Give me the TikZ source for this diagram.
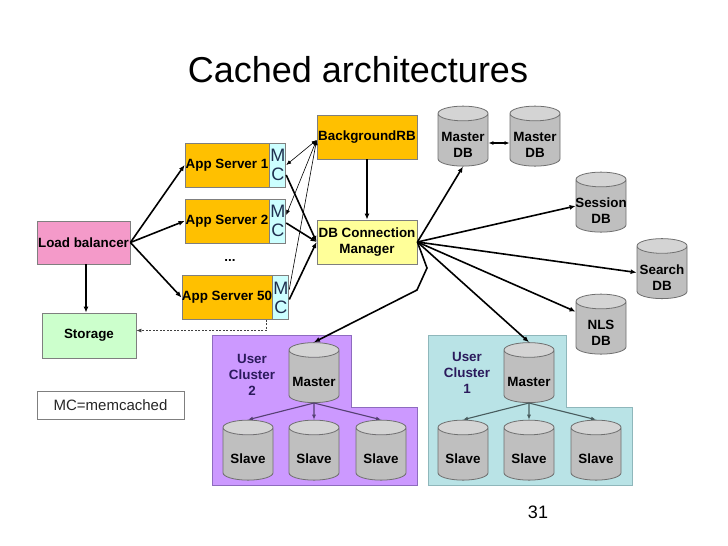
\documentclass[tikz,border=0pt]{standalone}
\usepackage{fontspec}
\setmainfont{Liberation Sans}
\usetikzlibrary{shapes.geometric,arrows.meta,calc}
\definecolor{orangefill}{HTML}{FFC000}
\definecolor{mcfill}{HTML}{CCFFFF}
\definecolor{pinkfill}{HTML}{F49AC9}
\definecolor{greenfill}{HTML}{CCFFCC}
\definecolor{yellowfill}{HTML}{FFFF99}
\definecolor{boxline}{HTML}{7F7F7F}
\definecolor{dbgray}{HTML}{BFBFBF}
\definecolor{dbtop}{HTML}{D4D4D4}
\definecolor{dbline}{HTML}{6F6F6F}
\definecolor{purplefill}{HTML}{CC99FF}
\definecolor{purpleline}{HTML}{8E6BBF}
\definecolor{tealfill}{HTML}{B9E3E6}
\definecolor{tealline}{HTML}{8FB7BB}
\definecolor{clustertext}{HTML}{2B1A5C}
\definecolor{mctext}{HTML}{1F2F4F}
\newcommand\boxfont{\fontsize{13.4}{16}\selectfont\bfseries}
\begin{document}
\begin{tikzpicture}[x=1pt,y=-1pt,
  box/.style={draw=boxline, line width=0.8pt, inner sep=0pt, font=\boxfont, align=center, text=black},
  mcbox/.style={draw=boxline, line width=0.8pt, fill=mcfill, inner sep=0pt, minimum width=16pt, minimum height=44pt, align=center, font=\fontsize{18}{19}\selectfont, text=mctext},
  dbnode/.style={cylinder, shape border rotate=90, draw=dbline, line width=0.8pt, cylinder uses custom fill, cylinder body fill=dbgray, cylinder end fill=dbtop, minimum width=50pt, minimum height=60pt, aspect=0.42, inner sep=0pt, font=\boxfont},
  dblabel/.style={font=\boxfont, align=center, inner sep=0pt},
  arr/.style={line width=1.6pt, -{Latex[length=6pt,width=5pt]}},
  thinarr/.style={line width=0.6pt, -{Latex[length=5pt,width=4pt]}},
  clarr/.style={line width=1.1pt, -{Latex[length=5pt,width=4pt]}},
  cluster/.style={line width=0.8pt},
  cltext/.style={font=\boxfont, align=center, text=clustertext}
]
\useasboundingbox (0,0) rectangle (728,546);
\fill[white] (0,0) rectangle (728,546);

% title and page number
\node[font=\fontsize{36}{40}\selectfont, anchor=base] (title) at (358,82) {Cached architectures};
\node[font=\fontsize{18}{20}\selectfont, anchor=base] (pagenum) at (538,518) {31};

% clusters
\filldraw[cluster, fill=purplefill, draw=purpleline] (212,335) -- (351,335) -- (351,407) -- (417,407) -- (417,485) -- (212,485) -- cycle;
\filldraw[cluster, fill=tealfill, draw=tealline] (428,335) -- (566,335) -- (566,407) -- (632,407) -- (632,485) -- (428,485) -- cycle;

% boxes
\node[box, fill=pinkfill, minimum width=93pt, minimum height=43pt] (lb) at (83.5,242.5) {Load balancer};
\node[box, fill=greenfill, minimum width=94pt, minimum height=45pt] (storage) at (89,335.5) {Storage};
\node[box, fill=orangefill, minimum width=84pt, minimum height=44pt] (app1) at (227,165) {App Server 1};
\node[box, fill=orangefill, minimum width=84pt, minimum height=44pt] (app2) at (227,221) {App Server 2};
\node[box, fill=orangefill, minimum width=84pt, minimum height=44pt] (app50) at (227,297.5) {App Server 50};
\node[mcbox, anchor=west] (mc1) at (app1.east) {M\\C};
\node[mcbox, anchor=west] (mc2) at (app2.east) {M\\C};
\node[mcbox, anchor=west] (mc50) at (app50.east) {M\\C};
\node[font=\boxfont] (dots) at (230,260) {...};
\node[box, fill=orangefill, minimum width=100pt, minimum height=44pt] (bg) at (367,137) {BackgroundRB};
\node[box, fill=yellowfill, minimum width=100pt, minimum height=44pt] (dbm) at (367,242) {DB Connection\\Manager};
\node[draw=boxline, line width=0.8pt, inner sep=0pt, minimum width=147pt, minimum height=28pt, font=\fontsize{15}{17}\selectfont, text={black!85}] (legend) at (110.5,405) {MC=memcached};

% databases
\node[dbnode] (mdb1) at (463,140) {\phantom{Slave}};
\node[dblabel] (mdb1t) at (463,145) {Master\\DB};
\node[dbnode] (mdb2) at (535,140) {\phantom{Slave}};
\node[dblabel] (mdb2t) at (535,145) {Master\\DB};
\node[dbnode] (sess) at (601,206) {\phantom{Slave}};
\node[dblabel] (sesst) at (601,211) {Session\\DB};
\node[dbnode] (search) at (662,272.5) {\phantom{Slave}};
\node[dblabel] (searcht) at (662,277.5) {Search\\DB};
\node[dbnode] (nls) at (601,328) {\phantom{Slave}};
\node[dblabel] (nlst) at (601,333) {NLS\\DB};

\node[dbnode] (um2) at (314,376.5) {\phantom{Slave}};
\node[dblabel] (um2t) at (314,382) {Master};
\node[dbnode] (s21) at (248,454) {\phantom{Slave}};
\node[dblabel] (s21t) at (248,459) {Slave};
\node[dbnode] (s22) at (314,454) {\phantom{Slave}};
\node[dblabel] (s22t) at (314,459) {Slave};
\node[dbnode] (s23) at (381,454) {\phantom{Slave}};
\node[dblabel] (s23t) at (381,459) {Slave};
\node[dbnode] (um1) at (529,376.5) {\phantom{Slave}};
\node[dblabel] (um1t) at (529,382) {Master};
\node[dbnode] (s11) at (463,454) {\phantom{Slave}};
\node[dblabel] (s11t) at (463,459) {Slave};
\node[dbnode] (s12) at (529,454) {\phantom{Slave}};
\node[dblabel] (s12t) at (529,459) {Slave};
\node[dbnode] (s13) at (596,454) {\phantom{Slave}};
\node[dblabel] (s13t) at (596,459) {Slave};

\node[cltext] (cl2) at (252,375) {User\\Cluster\\2};
\node[cltext] (cl1) at (467,373) {User\\Cluster\\1};

% connectors
\draw[arr] (lb.east) -- (app1.west);
\draw[arr] (lb.east) -- (app2.west);
\draw[arr] (lb.east) -- (app50.west);
\draw[arr] ([xshift=2.5pt]lb.south) -- ([xshift=2.5pt]lb.south |- storage.north);
\draw[line width=0.7pt, dashed, dash pattern=on 2pt off 1.5pt, -{Latex[length=5pt,width=4pt]}, black!75] ([xshift=-6pt]app50.south east) |- ([yshift=5pt]storage.east);

\draw[thinarr, {Latex[length=5pt,width=4pt]}-{Latex[length=5pt,width=4pt]}] (mc1.east) -- ([yshift=-3pt]bg.west);
\draw[thinarr, {Latex[length=5pt,width=4pt]}-{Latex[length=5pt,width=4pt]}] ([yshift=6pt]mc2.east) -- ([yshift=-3pt]bg.west);
\draw[thinarr] ([yshift=8pt]mc50.east) -- ([yshift=-3pt]bg.west);
\draw[arr] ([yshift=-10pt]mc1.east) -- (dbm.west);
\draw[arr] ([yshift=-2pt]mc2.east) -- (dbm.west);
\draw[arr] ([yshift=-2pt]mc50.east) -- (dbm.west);
\draw[arr] (bg.south) -- (dbm.north);

\draw[arr] (dbm.east) -- (mdb1.south);
\draw[arr, {Latex[length=5pt,width=4pt]}-{Latex[length=5pt,width=4pt]}] ([yshift=-3pt]mdb1.east) -- ([yshift=-3pt]mdb2.west);
\draw[arr] (dbm.east) -- (sess.west);
\draw[arr] (dbm.east) -- (search.west);
\draw[arr] (dbm.east) -- ([yshift=-9pt]nls.north west);
\draw[arr] (dbm.east) -- (um1.north);
\coordinate (bend1) at (427,268);
\coordinate (bend2) at (417,290);
\draw[arr] (dbm.east) -- (bend1) -- (bend2) -- (um2.north);

\draw[clarr, draw={purpleline!60!black}] (um2.south) -- (s21.north);
\draw[clarr, draw={purpleline!60!black}] (um2.south) -- (s22.north);
\draw[clarr, draw={purpleline!60!black}] (um2.south) -- (s23.north);
\draw[clarr, draw={tealline!50!black}] (um1.south) -- (s11.north);
\draw[clarr, draw={tealline!50!black}] (um1.south) -- (s12.north);
\draw[clarr, draw={tealline!50!black}] (um1.south) -- (s13.north);
\end{tikzpicture}
\end{document}
